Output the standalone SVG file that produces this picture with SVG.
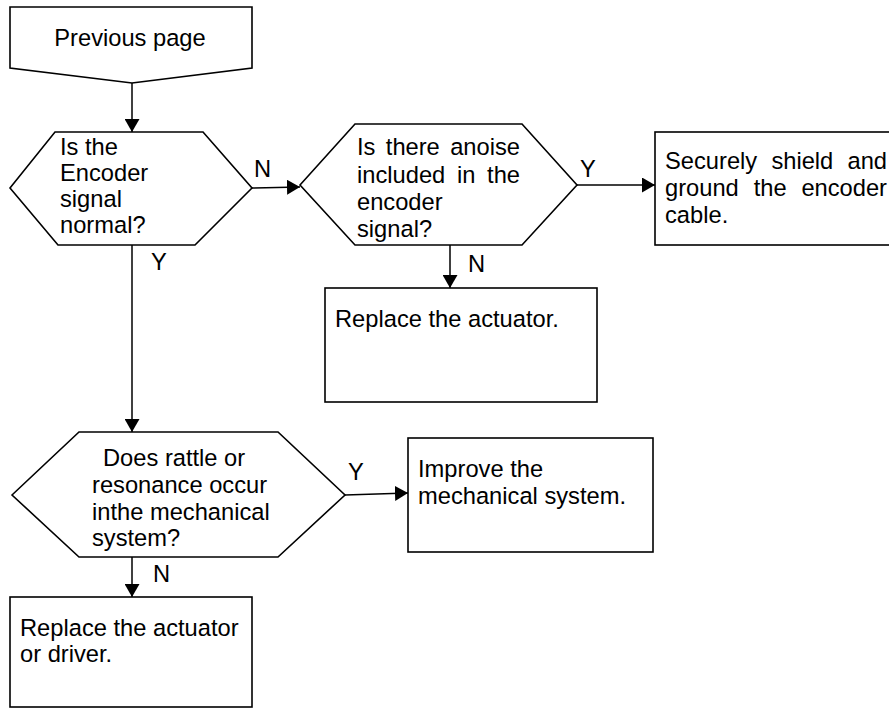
<svg xmlns="http://www.w3.org/2000/svg" width="889" height="709" viewBox="0 0 889 709">
<style>
.s{fill:#fff;stroke:#000;stroke-width:1.6}
.c{fill:none;stroke:#000;stroke-width:1.5}
text{font-family:"Liberation Sans",Arial,sans-serif;font-size:23.7px;fill:#000}
.e{text-anchor:end}
</style>
<defs>
<marker id="ah" markerUnits="userSpaceOnUse" markerWidth="14" markerHeight="15" refX="13" refY="7.5" orient="auto">
<path d="M0,0 L13,7.5 L0,15 Z" fill="#000"/>
</marker>
</defs>
<rect width="889" height="709" fill="#fff"/>
<g id="connectors">
<line class="c" x1="132" y1="83" x2="132" y2="132" marker-end="url(#ah)"/>
<line class="c" x1="252" y1="188" x2="300" y2="187" marker-end="url(#ah)"/>
<line class="c" x1="577" y1="185" x2="655" y2="185" marker-end="url(#ah)"/>
<line class="c" x1="450" y1="245" x2="450" y2="288" marker-end="url(#ah)"/>
<line class="c" x1="132" y1="245" x2="132" y2="432" marker-end="url(#ah)"/>
<line class="c" x1="345" y1="495" x2="408" y2="493" marker-end="url(#ah)"/>
<line class="c" x1="132" y1="557" x2="132" y2="597" marker-end="url(#ah)"/>
<text x="254" y="177">N</text>
<text x="580" y="177">Y</text>
<text x="468" y="272">N</text>
<text x="151" y="270">Y</text>
<text x="348" y="480">Y</text>
<text x="153" y="582">N</text>
</g>
<g id="prev">
<path class="s" d="M10,7 H252 V68 L132,83 L10,68 Z"/>
<text x="130" y="46" text-anchor="middle">Previous page</text>
</g>
<g id="q1">
<path class="s" d="M10,188 L55,132 H203 L252,188 L195,245 H58 Z"/>
<text x="60" y="155">Is the</text>
<text x="60" y="181">Encoder</text>
<text x="60" y="207">signal</text>
<text x="60" y="233">normal?</text>
</g>
<g id="q2">
<path class="s" d="M300,185 L355,124 H522 L577,185 L522,245 H355 Z"/>
<text x="357" y="155">Is</text><text x="385.8" y="155">there</text><text class="e" x="520" y="155">anoise</text>
<text x="357" y="183">included</text><text x="457" y="183">in</text><text class="e" x="520" y="183">the</text>
<text x="357" y="210">encoder</text>
<text x="357" y="237">signal?</text>
</g>
<g id="shield">
<rect class="s" x="655" y="132" width="250" height="113"/>
<text x="665" y="169">Securely</text><text x="771.4" y="169">shield</text><text class="e" x="887" y="169">and</text>
<text x="665" y="196">ground</text><text x="753.7" y="196">the</text><text class="e" x="887" y="196">encoder</text>
<text x="665" y="223">cable.</text>
</g>
<g id="replace1">
<rect class="s" x="325" y="288" width="272" height="114"/>
<text x="335" y="327">Replace the actuator.</text>
</g>
<g id="q3">
<path class="s" d="M12,495 L79,432 H278 L345,495 L278,557 H79 Z"/>
<text x="103" y="466">Does rattle or</text>
<text x="92" y="493">resonance occur</text>
<text x="92" y="520">inthe mechanical</text>
<text x="92" y="546">system?</text>
</g>
<g id="improve">
<rect class="s" x="408" y="438" width="245" height="114"/>
<text x="418" y="477">Improve the</text>
<text x="418" y="504">mechanical system.</text>
</g>
<g id="replace2">
<rect class="s" x="10" y="597" width="242" height="110"/>
<text x="20" y="636">Replace the actuator</text>
<text x="20" y="662">or driver.</text>
</g>
</svg>
